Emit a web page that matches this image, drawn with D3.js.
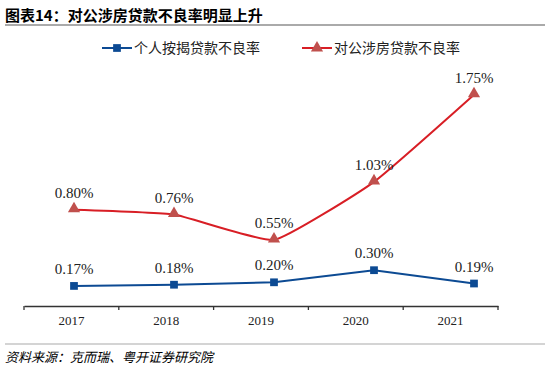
<!DOCTYPE html>
<html>
<head>
<meta charset="utf-8">
<script src="https://cdn.jsdelivr.net/npm/d3@7"></script>
<style>
  body { margin: 0; background: #fff; }
  svg { display: block; }
</style>
</head>
<body>
<script>
// chart data
var years = ["2017", "2018", "2019", "2020", "2021"];
var mortgageNpl = [0.17, 0.18, 0.20, 0.30, 0.19];   // 个人按揭贷款不良率 (%)
var corpPropNpl = [0.80, 0.76, 0.55, 1.03, 1.75];   // 对公涉房贷款不良率 (%)
var seriesNames = ["个人按揭贷款不良率", "对公涉房贷款不良率"];

var width = 550, height = 375;
var cnFont = "'Noto Sans CJK SC', sans-serif";
var numFont = "'Liberation Serif', 'Times New Roman', serif";
var blue = "#0c4a93", red = "#d81e25", redMark = "#c0504d";

var svg = d3.select("body").append("svg")
    .attr("width", width)
    .attr("height", height);

// title + rule
svg.append("text")
    .attr("x", 5).attr("y", 21)
    .style("font-family", cnFont)
    .style("font-size", "15px")
    .style("font-weight", "bold")
    .attr("fill", "#000")
    .text("图表14：对公涉房贷款不良率明显上升");
svg.append("line")
    .attr("x1", 5).attr("x2", 545).attr("y1", 25).attr("y2", 25)
    .attr("stroke", "#aaa").attr("stroke-width", 2);

// scales: axis categories and the plotted points sit on slightly different spans
var xBand = d3.scaleBand().domain(years).range([24, 498]).padding(0);
var xPt = d3.scalePoint().domain(years).range([74, 474]);
var y = d3.scaleLinear().domain([0, 2]).range([306.5, 64.5]);

// x axis
var axis = svg.append("g")
    .attr("transform", "translate(0,306)")
    .call(d3.axisBottom(xBand).tickSize(0).tickPadding(10));
axis.select(".domain").attr("stroke", "#333").attr("stroke-width", 1.3);
axis.selectAll("text")
    .style("font-family", numFont)
    .style("font-size", "13px")
    .attr("fill", "#222");
// category boundary ticks
var bounds = years.map(function(d) { return xBand(d); }).concat([xBand.range()[1]]);
axis.selectAll(".bound").data(bounds).enter().append("line")
    .attr("class", "bound")
    .attr("x1", function(d) { return d; }).attr("x2", function(d) { return d; })
    .attr("y1", 0).attr("y2", 4)
    .attr("stroke", "#333").attr("stroke-width", 1.3);

// lines
var lineStraight = d3.line()
    .x(function(d, i) { return xPt(years[i]); })
    .y(function(d) { return y(d); });
var lineSmooth = d3.line()
    .x(function(d, i) { return xPt(years[i]); })
    .y(function(d) { return y(d); })
    .curve(d3.curveCardinal.tension(0.6));

svg.append("path").datum(mortgageNpl)
    .attr("d", lineStraight)
    .attr("fill", "none").attr("stroke", blue).attr("stroke-width", 2);
svg.append("path").datum(corpPropNpl)
    .attr("d", lineSmooth)
    .attr("fill", "none").attr("stroke", red).attr("stroke-width", 2);

// markers
var sq = d3.symbol().type(d3.symbolSquare).size(60);
var tri = d3.symbol().type(d3.symbolTriangle).size(64);

svg.selectAll(".mk1").data(mortgageNpl).enter().append("path")
    .attr("class", "mk1")
    .attr("d", sq)
    .attr("transform", function(d, i) { return "translate(" + xPt(years[i]) + "," + y(d) + ")"; })
    .attr("fill", blue);
svg.selectAll(".mk2").data(corpPropNpl).enter().append("path")
    .attr("class", "mk2")
    .attr("d", tri)
    .attr("transform", function(d, i) { return "translate(" + xPt(years[i]) + "," + (y(d) - 1) + ")"; })
    .attr("fill", redMark);

// value labels
function addLabels(data, cls) {
  svg.selectAll("." + cls).data(data).enter().append("text")
      .attr("class", cls)
      .attr("x", function(d, i) { return xPt(years[i]); })
      .attr("y", function(d) { return y(d) - 12; })
      .attr("text-anchor", "middle")
      .style("font-family", numFont)
      .style("font-size", "15px")
      .attr("fill", "#222")
      .text(function(d) { return d.toFixed(2) + "%"; });
}
addLabels(mortgageNpl, "lb1");
addLabels(corpPropNpl, "lb2");

// legend
var legend = [
  {name: seriesNames[0], x: 102, color: blue, sym: sq, mark: blue},
  {name: seriesNames[1], x: 302, color: red, sym: tri, mark: redMark}
];
var lg = svg.selectAll(".lg").data(legend).enter().append("g")
    .attr("class", "lg")
    .attr("transform", function(d) { return "translate(" + d.x + ",48)"; });
lg.append("line")
    .attr("x1", 0).attr("x2", 30).attr("y1", 0).attr("y2", 0)
    .attr("stroke", function(d) { return d.color; }).attr("stroke-width", 2);
lg.append("path")
    .attr("d", function(d) { return d.sym(); })
    .attr("transform", "translate(15,0)")
    .attr("fill", function(d) { return d.mark; });
lg.append("text")
    .attr("x", 32).attr("y", 5)
    .style("font-family", cnFont)
    .style("font-size", "14px")
    .attr("fill", "#222")
    .text(function(d) { return d.name; });

// bottom rule + source
svg.append("line")
    .attr("x1", 5).attr("x2", 545).attr("y1", 344).attr("y2", 344)
    .attr("stroke", "#aaa").attr("stroke-width", 1.2);
svg.append("text")
    .attr("x", 5).attr("y", 362)
    .style("font-family", cnFont)
    .style("font-size", "13px")
    .style("font-style", "italic")
    .attr("fill", "#000")
    .text("资料来源：克而瑞、粤开证券研究院");
</script>
</body>
</html>
